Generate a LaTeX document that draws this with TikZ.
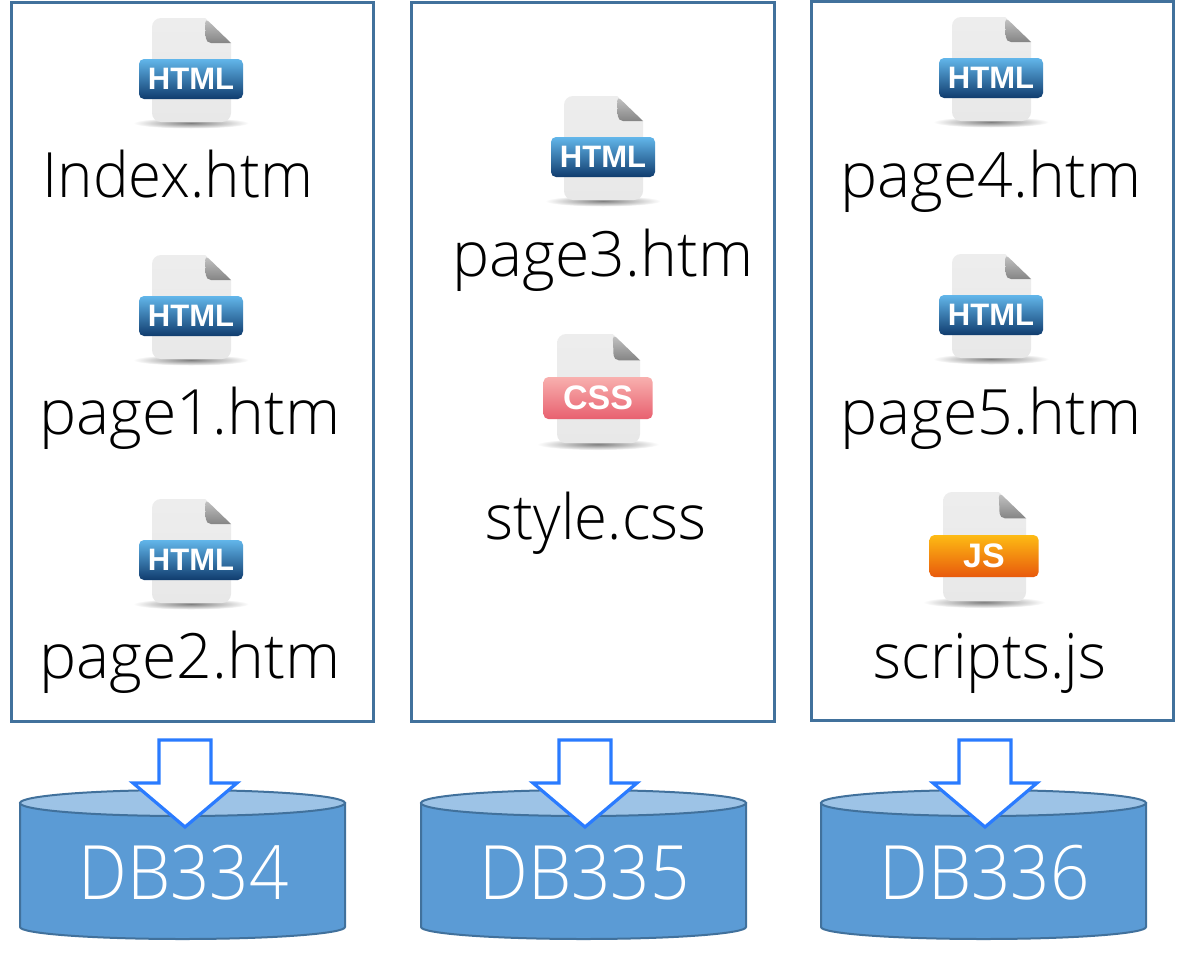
\documentclass[tikz,border=0pt]{standalone}
\usepackage{xcolor}
\usepackage{fontspec}
\setmainfont{Open Sans Light}
\newfontfamily\narrowfont[FakeStretch=0.96]{Open Sans Light}
\newfontfamily\thinfont[FakeStretch=0.92]{Open Sans Light}
\newfontfamily\badgefont{Liberation Sans Bold}
\definecolor{frameblue}{HTML}{41719C}
\definecolor{dbblue}{HTML}{5B9BD5}
\definecolor{dbtop}{HTML}{9DC3E6}
\definecolor{arrowblue}{HTML}{2A7BFF}
\definecolor{htmlbot}{HTML}{103C6E}
\definecolor{htmlmid}{HTML}{1E6CA8}
\definecolor{htmltop}{HTML}{62B6EA}
\definecolor{cssbot}{HTML}{E8606F}
\definecolor{cssmid}{HTML}{F08C92}
\definecolor{csstop}{HTML}{F8B0AE}
\definecolor{jsbot}{HTML}{E8590C}
\definecolor{jsmid}{HTML}{F59208}
\definecolor{jstop}{HTML}{FDBB14}

\tikzset{
    panel/.style={draw=frameblue, line width=3pt, fill=white},
    filename/.style={anchor=base, font=\fontsize{62.5}{62.5}\selectfont, text=black, inner sep=0pt},
    narrowname/.style={filename, font=\narrowfont\fontsize{62.5}{62.5}\selectfont},
    dbname/.style={font=\thinfont\fontsize{75}{75}\selectfont, text=white, inner sep=0pt},
    dbbody/.style={draw=frameblue, line width=2pt, fill=dbblue},
    dbcap/.style={draw=frameblue, line width=2pt, fill=dbtop},
    downarrow/.style={draw=arrowblue, line width=3.2pt, fill=white, miter limit=10},
    badgetext/.style={font=\badgefont\fontsize{31}{31}\selectfont, text=white, inner sep=0pt},
    widebadgetext/.style={font=\badgefont\fontsize{34}{34}\selectfont, text=white, inner sep=0pt},
    htmlbadge/.style={top color=htmltop, middle color=htmlmid, bottom color=htmlbot},
    cssbadge/.style={top color=csstop, middle color=cssmid, bottom color=cssbot},
    jsbadge/.style={top color=jstop, middle color=jsmid, bottom color=jsbot}
}

% name, x, y, size, badge style, text style, badge text
\newcommand{\fileicon}[7]{
    \begin{scope}[shift={(#2,#3)}, scale=#4]
        \shade[inner color=black!50, outer color=white] (0,105) ellipse (58 and 5.5);
        \draw[draw=none, top color=black!7, bottom color=black!9]
            (-39,50) [rounded corners=9pt] -- (-39,0) [sharp corners] -- (14,0) -- (40,25)
            [rounded corners=9pt] -- (40,104) -- (-39,104) -- cycle;
        \shade[rounded corners=5pt, top color=black!22, bottom color=black!48]
            (14,0) [sharp corners] -- (40,25) [rounded corners=5pt] -- (15,25) -- cycle;
        \draw[rounded corners=5pt, draw=none, #5] (-52,41) rectangle (52,81);
        \node[#6] (#1) at (0,61) {#7};
    \end{scope}
}

% name, left x, label
\newcommand{\dbstack}[3]{
    \draw[dbbody] (#2,803) -- (#2,927) arc[start angle=180, end angle=0, x radius=162.5, y radius=12]
        -- (#2+325,803) -- cycle;
    \draw[dbcap] (#2+162.5,803) ellipse (162.5 and 13);
    \node[dbname] (#1) at (#2+163.5,873) {#3};
}

% tip x
\newcommand{\dbarrow}[1]{
    \draw[downarrow] (#1-26,740) -- (#1+26,740) -- (#1+26,783) -- (#1+52,783) -- (#1,827)
        -- (#1-52,783) -- (#1-26,783) -- cycle;
}

\begin{document}
\begin{tikzpicture}[x=1pt, y=-1pt]
    \useasboundingbox (0,0) rectangle (1183,961);

    % Panels
    \draw[panel] (11,2.5) rectangle (373,721);
    \draw[panel] (411,2.5) rectangle (774,721);
    \draw[panel] (811,1.5) rectangle (1173,720);

    % Left panel
    \fileicon{badgeindex}{191}{18}{1}{htmlbadge}{badgetext}{HTML}
    \node[narrowname] (index) at (178,197) {Index.htm};
    \fileicon{badgepageone}{191}{255}{1}{htmlbadge}{badgetext}{HTML}
    \node[filename] (pageone) at (190,434) {page1.htm};
    \fileicon{badgepagetwo}{191}{499}{1}{htmlbadge}{badgetext}{HTML}
    \node[filename] (pagetwo) at (190,678) {page2.htm};

    % Middle panel
    \fileicon{badgepagethree}{603}{96}{1}{htmlbadge}{badgetext}{HTML}
    \node[filename] (pagethree) at (603,276) {page3.htm};
    \fileicon{badgestyle}{598}{334}{1.05}{cssbadge}{widebadgetext}{CSS}
    \node[narrowname] (style) at (596,539) {style.css};

    % Right panel
    \fileicon{badgepagefour}{991}{17}{1}{htmlbadge}{badgetext}{HTML}
    \node[filename] (pagefour) at (991,197) {page4.htm};
    \fileicon{badgepagefive}{991}{254}{1}{htmlbadge}{badgetext}{HTML}
    \node[filename] (pagefive) at (991,434) {page5.htm};
    \fileicon{badgescripts}{984}{492}{1.05}{jsbadge}{widebadgetext}{JS}
    \node[narrowname] (scripts) at (990,678) {scripts.js};

    % Databases
    \dbstack{dbleft}{20}{DB334}
    \dbstack{dbmiddle}{421}{DB335}
    \dbstack{dbright}{821}{DB336}

    % Arrows
    \dbarrow{185}
    \dbarrow{585}
    \dbarrow{985}
\end{tikzpicture}
\end{document}
